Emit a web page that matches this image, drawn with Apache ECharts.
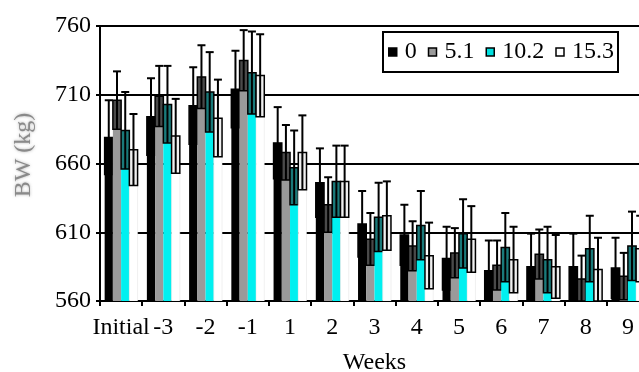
<!DOCTYPE html>
<html>
<head>
<meta charset="utf-8">
<script src="https://cdn.jsdelivr.net/npm/echarts@6/dist/echarts.min.js"></script>
<style>html,body{margin:0;padding:0;background:#fff}#c{width:639px;height:372px}</style>
</head>
<body>
<div id="c"></div>
<script>
const categories = ['Initial','-3','-2','-1','1','2','3','4','5','6','7','8','9'];
const seriesNames = ['0','5.1','10.2','15.3'];
const mean0   = [679, 694, 702, 714, 675, 646, 616, 608, 591, 582, 585, 585, 584];
const sd0     = [27, 28, 28, 28, 26, 25, 24, 22, 23, 22, 24, 24, 22];
const mean51  = [706, 709, 723, 735, 668, 630, 605, 600, 595, 586, 594, 576, 578];
const sd51    = [21, 22, 23, 22, 20, 20, 19, 18, 18, 18, 18, 17, 17];
const mean102 = [684, 703, 712, 726, 657, 647, 621, 615, 609, 599, 590, 598, 600];
const sd102   = [28, 28, 29, 30, 27, 26, 25, 25, 25, 25, 24, 24, 25];
const mean153 = [670, 680, 693, 724, 668, 647, 622, 593, 605, 590, 585, 583, 598];
const sd153   = [26, 27, 28, 30, 27, 26, 25, 24, 24, 24, 23, 23, 24];
const yTicks = [560, 610, 660, 710, 760];

const means = [mean0, mean51, mean102, mean153];
const sds = [sd0, sd51, sd102, sd153];
const fills = ['#000000', '#9a9a9a', '#00f0f0', '#ffffff'];
const boxes = ['#000000', '#4a4a4a', '#1a7a7a', '#f0f0f0'];
const YMIN = yTicks[0], YMAX = yTicks[yTicks.length-1];

function makeRender(si) {
  return function (params, api) {
    const cat = api.value(0), m = api.value(1), s = api.value(2);
    const band = api.size([1, 0])[0];
    const bw = band * 0.195;
    const c = api.coord([cat, m]);
    const cx = c[0] + (si - 1.5) * bw;
    const x0 = cx - bw / 2;
    const yB = api.coord([cat, YMIN])[1];
    const yM = c[1];
    const yL = api.coord([cat, Math.max(YMIN, m - s)])[1];
    const yH = api.coord([cat, m + s])[1];
    return {
      type: 'group',
      children: [
        {type: 'rect', shape: {x: x0, y: yL, width: bw, height: yB - yL},
         style: {fill: fills[si], stroke: si === 3 ? '#e0e0e0' : null, lineWidth: 0.5}},
        {type: 'rect', shape: {x: x0, y: yM, width: bw, height: yL - yM},
         style: {fill: boxes[si], stroke: '#000', lineWidth: 1.5}},
        {type: 'line', shape: {x1: cx, y1: yL, x2: cx, y2: yH},
         style: {stroke: '#000', lineWidth: 2}},
        {type: 'line', shape: {x1: cx - 4, y1: yH, x2: cx + 4, y2: yH},
         style: {stroke: '#000', lineWidth: 2}}
      ]
    };
  };
}

const series = seriesNames.map((name, si) => ({
  name: name,
  type: 'custom',
  renderItem: makeRender(si),
  encode: {x: 0, y: 1},
  clip: true,
  itemStyle: {color: fills[si], borderColor: '#000', borderWidth: 1.5},
  data: categories.map((_, i) => [i, means[si][i], sds[si][i]])
}));

const font = 'Liberation Serif';
const chart = echarts.init(document.getElementById('c'), null, {renderer: 'canvas'});
chart.setOption({
  animation: false,
  backgroundColor: '#fff',
  grid: {left: 100, top: 26, width: 549, height: 275, outerBoundsMode: 'none', containLabel: false},
  legend: {
    left: 383, top: 32,
    padding: [8, 4, 8, 5],
    borderColor: '#000', borderWidth: 2, backgroundColor: '#fff',
    icon: 'rect', itemWidth: 8, itemHeight: 8, itemGap: 11,
    textStyle: {fontFamily: font, fontSize: 24, color: '#000', padding: [0, 0, 0, 3]},
    data: seriesNames.map((n, si) => ({
      name: n,
      itemStyle: {color: si === 0 ? '#000' : (si === 2 ? '#00e0e0' : fills[si]), borderColor: '#000', borderWidth: 1.5}
    }))
  },
  xAxis: {
    type: 'category',
    data: categories,
    boundaryGap: true,
    axisLine: {lineStyle: {color: '#000', width: 2}},
    axisTick: {show: true, length: 5, lineStyle: {color: '#000', width: 2}},
    axisLabel: {fontFamily: font, fontSize: 24, color: '#000', margin: 15, interval: 0},
    name: 'Weeks',
    nameLocation: 'middle',
    nameGap: 50,
    nameTextStyle: {fontFamily: font, fontSize: 24, color: '#000', verticalAlign: 'top'}
  },
  yAxis: {
    type: 'value',
    min: YMIN, max: YMAX, interval: 50,
    axisLine: {show: true, lineStyle: {color: '#000', width: 2}},
    axisTick: {show: true, length: 4, lineStyle: {color: '#000', width: 2}},
    axisLabel: {fontFamily: font, fontSize: 24, color: '#000', margin: 9},
    splitLine: {show: true, lineStyle: {color: '#000', width: 2}}
  },
  graphic: [{
    type: 'text',
    x: 24, y: 155,
    rotation: Math.PI / 2,
    style: {
      text: 'BW (kg)', fontFamily: font, fontSize: 24, fill: '#8a8a8a',
      textAlign: 'center', textVerticalAlign: 'middle',
      textShadowColor: 'rgba(120,120,120,0.6)', textShadowBlur: 3
    }
  }],
  series: series
});
</script>
</body>
</html>
